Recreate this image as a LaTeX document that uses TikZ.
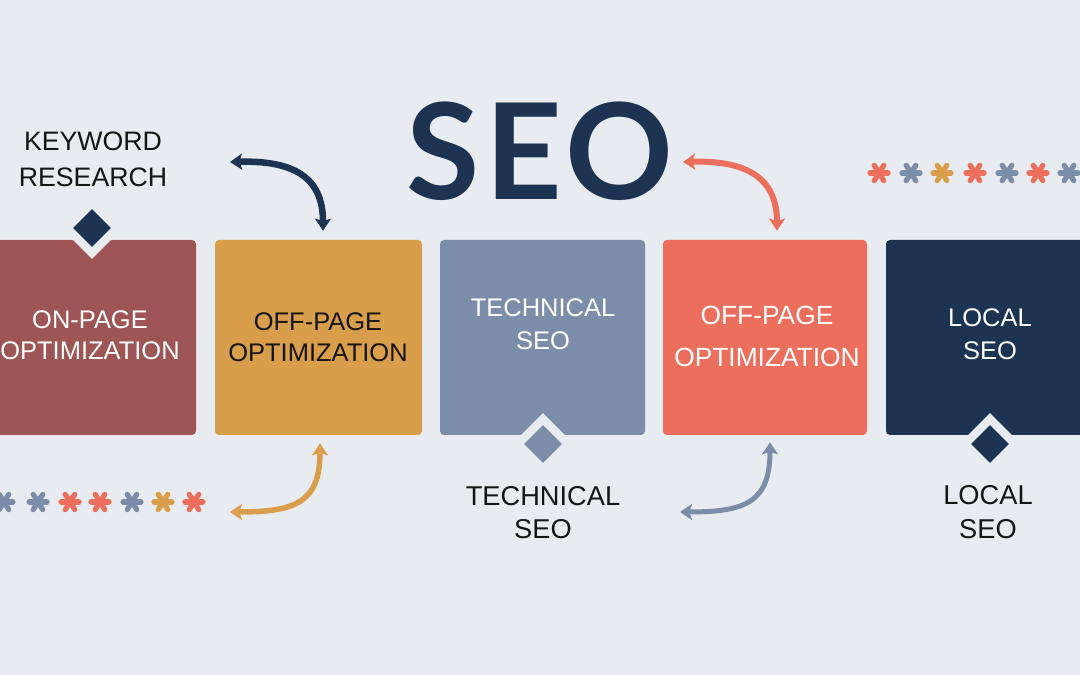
\documentclass[tikz,border=0pt]{standalone}
\usepackage{fontspec}
\setmainfont{Liberation Sans}
\newfontfamily\seofont{Lato}[LetterSpace=4]
\usetikzlibrary{shapes.geometric,arrows.meta}
\newdimen\pu \pu=0.02cm
\definecolor{bg}{HTML}{E8ECF0}
\definecolor{cbrick}{HTML}{9E5555}
\definecolor{corange}{HTML}{D89E4C}
\definecolor{cslate}{HTML}{7B8DA8}
\definecolor{ccoral}{HTML}{EC6F5D}
\definecolor{cnavy}{HTML}{1C3352}
\definecolor{cink}{HTML}{151515}
\tikzset{
  boxs/.style={rectangle, rounded corners=4\pu, minimum height=195\pu, inner sep=0pt},
  boxtext/.style={align=center, text=white, font=\fontsize{14.5}{17.6}\selectfont},
  lbl/.style={align=center, text=cink, font=\fontsize{15.2}{19.5}\selectfont},
  notch/.style={diamond, fill=bg, inner sep=0pt, minimum width=62\pu, minimum height=62\pu},
  gem/.style={diamond, inner sep=0pt, minimum width=38\pu, minimum height=38\pu},
  arr/.style={line width=0.11cm, {Stealth[length=0.24cm,width=0.32cm,inset=0.05cm]}-{Stealth[length=0.24cm,width=0.32cm,inset=0.05cm]}},
  ast/.pic={\foreach \a in {0,58,122} \draw[line width=0.105cm, line cap=round] (\a:9\pu) -- (\a+180:9\pu);}
}
\begin{document}
\begin{tikzpicture}[x=0.02cm,y=-0.02cm]
\fill[bg] (0,0) rectangle (1080,675);
\useasboundingbox (0,0) rectangle (1080,675);

% title
\node[text=cnavy, font=\seofont\bfseries\fontsize{76}{76}\selectfont, inner sep=0pt, anchor=base] (seo) at (540,200) {SEO};

% boxes
\node[boxs, fill=cbrick, minimum width=216\pu] (b1) at (88,337.5) {};
\node[boxs, fill=corange, minimum width=207\pu] (b2) at (318.5,337.5) {};
\node[boxs, fill=cslate, minimum width=205\pu] (b3) at (542.5,337.5) {};
\node[boxs, fill=ccoral, minimum width=204\pu] (b4) at (765,337.5) {};
\node[boxs, fill=cnavy, minimum width=214\pu] (b5) at (993,337.5) {};

\node[boxtext] (t1) at (90,335.5) {ON-PAGE\\OPTIMIZATION};
\node[boxtext, text=cink] (t2) at (318,337) {OFF-PAGE\\OPTIMIZATION};
\node[boxtext, font=\fontsize{14.5}{18.7}\selectfont] (t3) at (543,324.5) {TECHNICAL\\SEO};
\node[boxtext, font=\fontsize{15}{24}\selectfont] (t4) at (767,336.5) {OFF-PAGE\\OPTIMIZATION};
\node[boxtext, font=\fontsize{14.5}{18.7}\selectfont] (t5) at (990,334.5) {LOCAL\\SEO};

% diamonds
\node[notch] (n1) at (92,228) {};
\node[gem, fill=cnavy] (d1) at (92,228) {};
\node[notch] (n3) at (543,444) {};
\node[gem, fill=cslate] (d3) at (543,444) {};
\node[notch] (n5) at (990,444) {};
\node[gem, fill=cnavy] (d5) at (990,444) {};

% labels
\node[lbl, font=\fontsize{15.2}{20.4}\selectfont] (l1) at (93,159) {KEYWORD\\RESEARCH};
\node[lbl, font=\fontsize{15.5}{18.7}\selectfont] (l3) at (543,513) {TECHNICAL\\SEO};
\node[lbl, font=\fontsize{15.5}{19.2}\selectfont] (l5) at (988,512) {LOCAL\\SEO};

% arrows
\coordinate (a1) at (230,162);
\coordinate (a2) at (683,162);
\coordinate (a3) at (230,512);
\coordinate (a4) at (680,512);
\draw[arr, cnavy, line width=0.13cm, shorten >=0.18cm] (a1) .. controls (300,160) and (323,182) .. ([xshift=0.09cm]b2.north);
\draw[arr, ccoral, line width=0.12cm, shorten >=0.18cm] (a2) .. controls (752,160) and (777,182) .. ([xshift=0.24cm]b4.north);
\draw[arr, corange, line width=0.11cm, shorten <=0.16cm] ([xshift=0.03cm]b2.south) .. controls (320,502) and (296,512) .. (a3);
\draw[arr, cslate, line width=0.1cm, shorten <=0.14cm] ([xshift=0.1cm]b4.south) .. controls (770,502) and (746,512) .. (a4);

% asterisks
\foreach \x/\c in {879/ccoral, 911/cslate, 942/corange, 975/ccoral, 1007/cslate, 1038/ccoral, 1069/cslate}
  \pic[color=\c] at (\x,173) {ast};
\foreach \x/\c in {4/cslate, 38/cslate, 70/ccoral, 100/ccoral, 132/cslate, 163/corange, 194/ccoral}
  \pic[color=\c] at (\x,502) {ast};
\end{tikzpicture}
\end{document}
